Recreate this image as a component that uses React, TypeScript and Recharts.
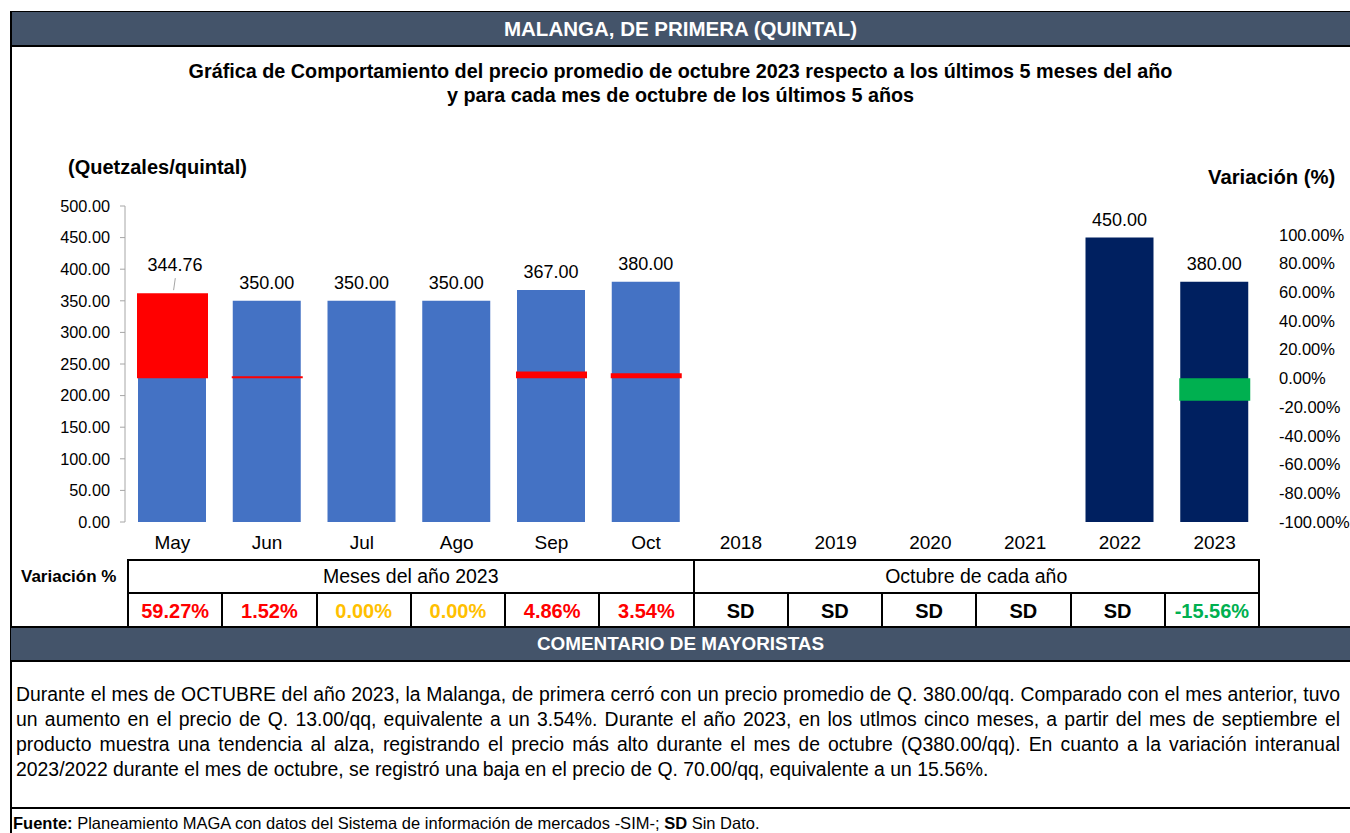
import React from 'react';
import { ComposedChart, Bar, XAxis, YAxis, Cell, LabelList } from 'recharts';

const FONT = "'Liberation Sans', Arial, Helvetica, sans-serif";

// ---- data ----
const categories = ['May', 'Jun', 'Jul', 'Ago', 'Sep', 'Oct', '2018', '2019', '2020', '2021', '2022', '2023'];
const prices: (number | null)[] = [344.76, 350, 350, 350, 367, 380, null, null, null, null, 450, 380];
const variations: (number | null)[] = [0.5927, 0.0152, 0, 0, 0.0486, 0.0354, null, null, null, null, null, -0.1556];
const periodGroup = ['mes', 'mes', 'mes', 'mes', 'mes', 'mes', 'anio', 'anio', 'anio', 'anio', 'anio', 'anio'];
const priceTicks = [0, 50, 100, 150, 200, 250, 300, 350, 400, 450, 500];
const variationTicks = [-1, -0.8, -0.6, -0.4, -0.2, 0, 0.2, 0.4, 0.6, 0.8, 1];
const tableGroupHeaders = ['Meses del año 2023', 'Octubre de cada año'];

const headerTitle = 'MALANGA, DE PRIMERA (QUINTAL)';
const chartTitleLines = [
  'Gráfica de Comportamiento del precio promedio de octubre 2023 respecto a los últimos 5 meses del año',
  'y para cada mes de octubre de los últimos 5 años',
];
const commentLines = [
  'Durante el mes de OCTUBRE del año 2023, la Malanga, de primera cerró con un precio promedio de Q. 380.00/qq. Comparado con el mes anterior, tuvo',
  'un aumento en el precio de Q. 13.00/qq, equivalente a un 3.54%. Durante el año 2023, en los utlmos cinco meses, a partir del mes de septiembre el',
  'producto muestra una tendencia al alza, registrando el precio más alto durante el mes de octubre  (Q380.00/qq). En cuanto a la variación interanual',
  '2023/2022 durante el mes de octubre, se registró una baja en el precio de Q. 70.00/qq, equivalente a un 15.56%.',
];

const COLORS = {
  header: '#44546A',
  month: '#4472C4',
  year: '#002060',
  up: '#FF0000',
  zero: '#FFC000',
  down: '#00B050',
};

const data = categories.map((cat, i) => ({
  cat,
  price: prices[i],
  variation: variations[i],
  group: periodGroup[i],
}));

const fmtPct = (v: number | null) => (v == null ? 'SD' : (v * 100).toFixed(2) + '%');
const pctColor = (v: number | null) =>
  v == null ? '#000' : v > 0 ? COLORS.up : v < 0 ? COLORS.down : COLORS.zero;

function PriceLabel(props: any) {
  const { x, y, width, value, index } = props;
  if (value == null) return null;
  const cx = Number(x) + Number(width) / 2;
  const yy = Number(y);
  const moved = index === 0;
  return (
    <g>
      {moved && (
        <line x1={cx + 3.3} y1={yy - 26} x2={cx + 1.6} y2={yy - 14} stroke="#A6A6A6" strokeWidth={1} />
      )}
      <text
        x={cx + (moved ? 3 : 0)}
        y={yy - (moved ? 39 : 18)}
        textAnchor="middle"
        dominantBaseline="central"
        fontSize={18}
        fill="#000"
        fontFamily={FONT}
      >
        {Number(value).toFixed(2)}
      </text>
    </g>
  );
}

const abs = (s: React.CSSProperties): React.CSSProperties => ({ position: 'absolute', ...s });

export default function App() {
  const TL = 128;
  const CW = 94.25;
  const nCols = categories.length;
  const half = 6;
  const rowTop = 560;
  const rowMid = 593;
  const rowBot = 627;

  const lines: React.ReactNode[] = [];
  lines.push(<div key="ht" style={abs({ left: TL - 1, top: rowTop - 1, width: CW * nCols + 2, height: 2, background: '#000' })} />);
  lines.push(<div key="hm" style={abs({ left: TL - 1, top: rowMid - 1, width: CW * nCols + 2, height: 2, background: '#000' })} />);
  for (let i = 0; i <= nCols; i++) {
    const x = TL + i * CW;
    const full = i === 0 || i === half || i === nCols;
    lines.push(
      <div
        key={'v' + i}
        style={abs({ left: x - 1, top: full ? rowTop - 1 : rowMid - 1, width: 2, height: full ? rowBot - rowTop + 1 : rowBot - rowMid + 1, background: '#000' })}
      />
    );
  }

  return (
    <div style={abs({ left: 0, top: 0, width: 1350, height: 833, background: '#fff', overflow: 'hidden', fontFamily: FONT, color: '#000' })}>
      {/* header */}
      <div style={abs({ left: 11, top: 11, width: 1339, height: 33, background: COLORS.header, borderTop: '1px solid #000', borderBottom: '2px solid #000', color: '#fff', fontWeight: 'bold', fontSize: 20.5, lineHeight: '33px', textAlign: 'center' })}>
        {headerTitle}
      </div>
      {/* left frame */}
      <div style={abs({ left: 10, top: 11, width: 2, height: 830, background: '#000' })} />

      {/* chart title */}
      <div style={abs({ left: 11, top: 59, width: 1339, textAlign: 'center', fontWeight: 'bold', fontSize: 19.8, lineHeight: '24px', whiteSpace: 'nowrap' })}>
        {chartTitleLines.map((t, i) => (
          <div key={i}>{t}</div>
        ))}
      </div>

      <div style={abs({ left: 68, top: 155, fontWeight: 'bold', fontSize: 20, lineHeight: '24px', whiteSpace: 'nowrap' })}>(Quetzales/quintal)</div>
      <div style={abs({ left: 1208, top: 165, fontWeight: 'bold', fontSize: 20.3, lineHeight: '24px', whiteSpace: 'nowrap' })}>Variación (%)</div>

      {/* chart */}
      <div style={abs({ left: 0, top: 0 })}>
        <ComposedChart
          width={1350}
          height={560}
          data={data}
          margin={{ top: 206, right: 0, bottom: 8, left: 0 }}
          style={{ fontFamily: FONT }}
        >
          <XAxis xAxisId="cat" dataKey="cat" height={30} axisLine={false} tickLine={false} tickSize={0} tickMargin={14} interval={0} tick={{ fill: '#000', fontSize: 19 }} />
          <XAxis xAxisId="var" dataKey="cat" hide />
          <YAxis
            yAxisId="price"
            width={125}
            domain={[0, 500]}
            ticks={priceTicks}
            interval={0}
            tickFormatter={(v: number) => v.toFixed(2)}
            axisLine={{ stroke: '#A6A6A6' }}
            tickLine={{ stroke: '#A6A6A6' }}
            tickSize={5}
            tickMargin={10}
            tick={{ fill: '#000', fontSize: 16.3 }}
          />
          <YAxis
            yAxisId="var"
            orientation="right"
            width={88}
            domain={[-1, 1.2]}
            ticks={variationTicks}
            interval={0}
            tickFormatter={(v: number) => (v * 100).toFixed(2) + '%'}
            axisLine={false}
            tickLine={false}
            tickSize={0}
            tickMargin={17}
            tick={{ fill: '#000', fontSize: 16.5 }}
          />
          <Bar xAxisId="cat" yAxisId="price" dataKey="price" barSize={68} isAnimationActive={false}>
            {data.map((d, i) => (
              <Cell key={i} fill={d.group === 'mes' ? COLORS.month : COLORS.year} />
            ))}
            <LabelList dataKey="price" content={PriceLabel} />
          </Bar>
          <Bar xAxisId="var" yAxisId="var" dataKey="variation" barSize={71} isAnimationActive={false}>
            {data.map((d, i) => (
              <Cell key={i} fill={d.variation != null && d.variation < 0 ? COLORS.down : COLORS.up} />
            ))}
          </Bar>
        </ComposedChart>
      </div>

      {/* table */}
      {lines}
      <div style={abs({ left: 21, top: rowTop, height: rowMid - rowTop, lineHeight: rowMid - rowTop + 'px', fontWeight: 'bold', fontSize: 17, whiteSpace: 'nowrap' })}>Variación %</div>
      {tableGroupHeaders.map((h, g) => (
        <div key={'g' + g} style={abs({ left: TL + g * half * CW, top: rowTop, width: half * CW, height: rowMid - rowTop, lineHeight: rowMid - rowTop + 'px', textAlign: 'center', fontSize: 19.5, whiteSpace: 'nowrap' })}>
          {h}
        </div>
      ))}
      {variations.map((v, i) => (
        <div key={'c' + i} style={abs({ left: TL + i * CW, top: rowMid + 1, width: CW, height: rowBot - rowMid, lineHeight: rowBot - rowMid + 'px', textAlign: 'center', fontSize: 20, fontWeight: 'bold', color: pctColor(v), whiteSpace: 'nowrap' })}>
          {fmtPct(v)}
        </div>
      ))}

      {/* comment header */}
      <div style={abs({ left: 11, top: rowBot - 1, width: 1339, height: 32, background: COLORS.header, borderTop: '2px solid #000', borderBottom: '2px solid #000', color: '#fff', fontWeight: 'bold', fontSize: 18.9, lineHeight: '32px', textAlign: 'center' })}>
        COMENTARIO DE MAYORISTAS
      </div>

      {/* comment text */}
      {commentLines.map((t, i) => {
        const last = i === commentLines.length - 1;
        return (
          <div
            key={'t' + i}
            style={abs({
              left: 16,
              top: 681.5 + i * 25,
              width: 1324,
              height: 25,
              lineHeight: '25px',
              fontSize: 19.4,
              whiteSpace: last ? 'nowrap' : 'normal',
              textAlign: last ? 'left' : 'justify',
              textAlignLast: last ? 'left' : 'justify',
            } as React.CSSProperties)}
          >
            {t}
          </div>
        );
      })}

      {/* separator & footer */}
      <div style={abs({ left: 11, top: 807, width: 1339, height: 2, background: '#000' })} />
      <div style={abs({ left: 13, top: 812, fontSize: 16.5, lineHeight: '22px', whiteSpace: 'nowrap' })}>
        <b>Fuente:</b> Planeamiento MAGA con datos del Sistema de información de mercados -SIM-; <b>SD</b> Sin Dato.
      </div>
    </div>
  );
}
